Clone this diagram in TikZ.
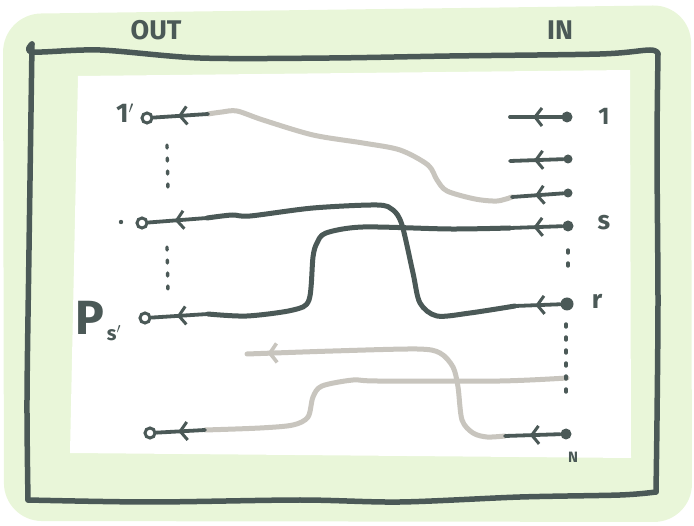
\documentclass[tikz,border=0pt]{standalone}
\usepackage{fontspec}
\setmainfont{Fira Sans}
\usetikzlibrary{arrows.meta,decorations.markings}
\definecolor{ink}{HTML}{4B5957}
\definecolor{wire}{HTML}{C8C5BE}
\definecolor{band}{HTML}{E9F6D9}
\begin{document}
\begin{tikzpicture}[x=1pt,y=-1pt,
  outc/.style={circle,draw=ink,line width=3pt,fill=white,inner sep=0pt,minimum size=10pt},
  inc/.style={circle,fill=ink,inner sep=0pt,minimum size=11pt},
  stub/.style={ink,line width=3.8pt,line cap=round,postaction={decorate},
    decoration={markings,mark=at position 0.55 with {\arrow[ink,line width=3pt]{Straight Barb[length=7pt,width=18pt]}}}},
  darkwire/.style={ink,line width=5pt,line cap=round,line join=round},
  graywire/.style={wire,line width=5pt,line cap=round,line join=round},
  grayarrow/.style={graywire,postaction={decorate},
    decoration={markings,mark=at position 0.935 with {\arrow[wire,line width=3.6pt]{Straight Barb[length=7pt,width=19pt]}}}},
  vdots/.style={ink,line width=3.4pt,dash pattern=on 3pt off 10pt,line cap=round},
  frame/.style={ink,line width=5.5pt,line cap=round,line join=round},
  lbl/.style={text=ink,font=\bfseries,inner sep=0pt}]
\useasboundingbox (0,0) rectangle (694,526);
% green band and white field
\fill[band,rounded corners=38pt] (3,14) -- (691,5) -- (692,522) -- (4,521) -- cycle;
\fill[white] (78,76) -- (630,70) -- (631,458) -- (70,453) -- cycle;
% frame
\draw[frame] plot[smooth,tension=0.5] coordinates {(32,44) (33,52) (100,50) (200,58) (330,58) (450,56) (600,54) (650,50) (658,54)};
\draw[frame] plot[smooth,tension=0.5] coordinates {(658,54) (657,150) (658,300) (657,420) (656,492)};
\draw[frame] plot[smooth,tension=0.5] coordinates {(656,492) (620,495) (520,497) (400,502) (300,500) (150,502) (28,500)};
\draw[frame] plot[smooth,tension=0.5] coordinates {(28,500) (27,400) (29,250) (32,44)};
% headers
\node[lbl,font=\fontsize{27}{27}\selectfont\bfseries] (out) at (156,30) {OUT};
\node[lbl,font=\fontsize{27}{27}\selectfont\bfseries] (in) at (560,30) {IN};
% left (output) ports
\node[outc] (L1) at (147,118) {};
\node[outc] (L2) at (142,223) {};
\node[outc] (L3) at (145,318) {};
\node[outc] (L4) at (150,433) {};
% right (input) ports
\node[inc] (R1) at (567,117) {};
\node[inc,minimum size=9pt] (R2) at (568,159) {};
\node[inc,minimum size=9pt] (R3) at (568,193) {};
\node[inc] (Rs) at (568,226) {};
\node[inc,minimum size=13pt] (Rr) at (567,304) {};
\node[inc] (RN) at (566,434) {};
% labels
\node[lbl,font=\fontsize{27}{27}\selectfont\bfseries] (l1p) at (125,113) {1$'$};
\node[lbl,font=\fontsize{48}{48}\selectfont\bfseries] (lp) at (90,318) {P};
\node[lbl,font=\fontsize{20}{20}\selectfont\bfseries] (lps) at (114,333) {s$'$};
\fill[ink] (121,222) circle (2.2pt);
\node[lbl,font=\fontsize{24}{24}\selectfont\bfseries] (lab1) at (604,116) {1};
\node[lbl,font=\fontsize{26}{26}\selectfont\bfseries] (labs) at (604,223) {s};
\node[lbl,font=\fontsize{26}{26}\selectfont\bfseries] (labr) at (597,301) {r};
\node[lbl,font=\fontsize{15}{15}\selectfont\bfseries] (labN) at (573,457) {N};
% stub ends
\coordinate (a1) at (208,114);
\coordinate (a2) at (207,218);
\coordinate (a3) at (208,314);
\coordinate (a4) at (205,430);
\coordinate (b1) at (510,117);
\coordinate (b2) at (510,161);
\coordinate (b3) at (512,197);
\coordinate (bs) at (510,228);
\coordinate (br) at (515,306);
\coordinate (bN) at (505,436);
\coordinate (c2) at (567,378);
\coordinate (c3) at (247,354);
% wires
\draw[graywire] plot[smooth,tension=0.5] coordinates {(a1) (222,112) (237,111) (263,120) (313,135) (363,143) (400,150) (428,165) (437,180) (447,191) (475,199) (497,201) (b3)};
\draw[graywire] plot[smooth,tension=0.5] coordinates {(c2) (500,381) (377,381) (353,380) (322,386) (313,397) (308,417) (293,425) (260,428) (a4)};
\draw[grayarrow] plot[smooth,tension=0.5] coordinates {(bN) (487,437) (473,433) (462,420) (458,387) (453,367) (440,353) (417,349) (333,351) (c3)};
\draw[darkwire] plot[smooth,tension=0.5] coordinates {(a2) (232,215) (250,216) (313,208) (377,205) (393,210) (402,225) (413,273) (420,303) (437,316) (470,313) (br)};
\draw[darkwire] plot[smooth,tension=0.5] coordinates {(a3) (247,316) (293,310) (309,300) (313,257) (317,243) (326,233) (363,227) (450,229) (bs)};
% stubs
\draw[stub] (a1) -- (L1);
\draw[stub] (a2) -- (L2);
\draw[stub] (a3) -- (L3);
\draw[stub] (a4) -- (L4);
\draw[stub] (R1) -- (b1);
\draw[stub] (R2) -- (b2);
\draw[stub] (R3) -- (b3);
\draw[stub] (Rs) -- (bs);
\draw[stub] (Rr) -- (br);
\draw[stub] (RN) -- (bN);
% dotted columns
\coordinate (d1) at (167,145); \coordinate (d2) at (168,192);
\coordinate (d3) at (167,247); \coordinate (d4) at (168,292);
\coordinate (d5) at (568,250); \coordinate (d6) at (568,274);
\coordinate (d7) at (566,324); \coordinate (d8) at (566,396);
\draw[vdots] (d1) -- (d2);
\draw[vdots] (d3) -- (d4);
\draw[vdots] (d5) -- (d6);
\draw[vdots] (d7) -- (d8);
\end{tikzpicture}
\end{document}
